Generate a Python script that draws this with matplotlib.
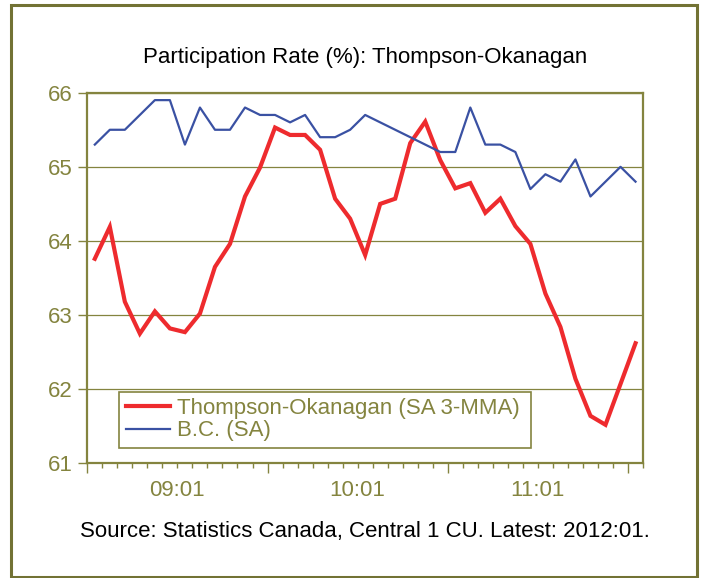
import matplotlib
matplotlib.use("Agg")
import matplotlib.pyplot as plt
import matplotlib.patches as mpatches
import matplotlib.transforms as mtransforms

plt.rcParams['font.family'] = ['Liberation Sans', 'DejaVu Sans']

# donnees mensuelles 2009:01 -> 2012:01
thompson = [63.76, 64.19, 63.18, 62.75, 63.05, 62.82, 62.77, 63.02, 63.65, 63.96,
            64.60, 64.99, 65.53, 65.43, 65.43, 65.23, 64.57, 64.30, 63.81, 64.50,
            64.57, 65.32, 65.61, 65.09, 64.71, 64.78, 64.38, 64.57, 64.20, 63.96,
            63.29, 62.84, 62.14, 61.64, 61.52, 62.07, 62.62]
bc = [65.3, 65.5, 65.5, 65.7, 65.9, 65.9, 65.3, 65.8, 65.5, 65.5,
      65.8, 65.7, 65.7, 65.6, 65.7, 65.4, 65.4, 65.5, 65.7, 65.6,
      65.5, 65.4, 65.3, 65.2, 65.2, 65.8, 65.3, 65.3, 65.2, 64.7,
      64.9, 64.8, 65.1, 64.6, 64.8, 65.0, 64.8]
year_labels = ['09:01', '10:01', '11:01']
y_ticks = [61, 62, 63, 64, 65, 66]

olive = '#84843f'
border_col = '#727234'
red = '#ee2b2e'
blue = '#3a51a3'

fig = plt.figure(figsize=(7.04, 5.78), dpi=100)
ax = fig.add_axes([0.124, 0.1984, 0.7894, 0.6412])

x = list(range(len(thompson)))
ax.plot(x, thompson, color=red, linewidth=3.0, label='Thompson-Okanagan (SA 3-MMA)',
        solid_joinstyle='miter', zorder=3)
ax.plot(x, bc, color=blue, linewidth=1.6, label='B.C. (SA)', zorder=3)

ax.set_xlim(-0.5, len(x) - 0.5)
ax.set_ylim(61, 66)
ax.set_yticks(y_ticks)
ax.set_yticklabels([str(v) for v in y_ticks])
ax.grid(axis='y', color=olive, linewidth=0.9)
ax.set_axisbelow(True)

# graduations x : une par mois, longues tous les 12 mois
ax.set_xticks([-0.5 + 12 * k for k in range(4)])
ax.set_xticks([-0.5 + k for k in range(len(x) + 1)], minor=True)
ax.set_xticklabels([])
ax.tick_params(axis='x', which='major', length=7.2, width=1.0, color=olive, direction='out')
ax.tick_params(axis='x', which='minor', length=3.6, width=1.0, color=olive, direction='out')
ax.tick_params(axis='y', length=6.5, width=1.0, color=olive, direction='out',
               labelsize=16, labelcolor=olive, pad=4)

trans = mtransforms.blended_transform_factory(ax.transData, ax.transAxes)
for i, lab in enumerate(year_labels):
    ax.text(5.5 + 12 * i, -0.072, lab, transform=trans, ha='center', va='center',
            fontsize=16, color=olive)

for s in ax.spines.values():
    s.set_color(olive)
    s.set_linewidth(1.6)

leg = ax.legend(loc='lower left', bbox_to_anchor=(0.0576, 0.0413, 0.7404, 0.1584),
                mode='expand', borderaxespad=0, fancybox=False, framealpha=1,
                edgecolor=olive, fontsize=16, handlelength=2.0, handletextpad=0.3,
                labelspacing=0.05, borderpad=0.3)
leg.get_frame().set_linewidth(1.2)
for t in leg.get_texts():
    t.set_color(olive)

fig.text(0.518, 1 - 57 / 578, 'Participation Rate (%): Thompson-Okanagan',
         ha='center', va='center', fontsize=16, color='black')
fig.text(0.518, 1 - 532 / 578, 'Source: Statistics Canada, Central 1 CU. Latest: 2012:01.',
         ha='center', va='center', fontsize=16, color='black')

fig.patches.append(mpatches.Rectangle((11 / 704, 1 - 577 / 578), 686 / 704, 572 / 578,
                                      transform=fig.transFigure, fill=False,
                                      edgecolor=border_col, linewidth=2.2))

fig.savefig('out.png', dpi=100)
